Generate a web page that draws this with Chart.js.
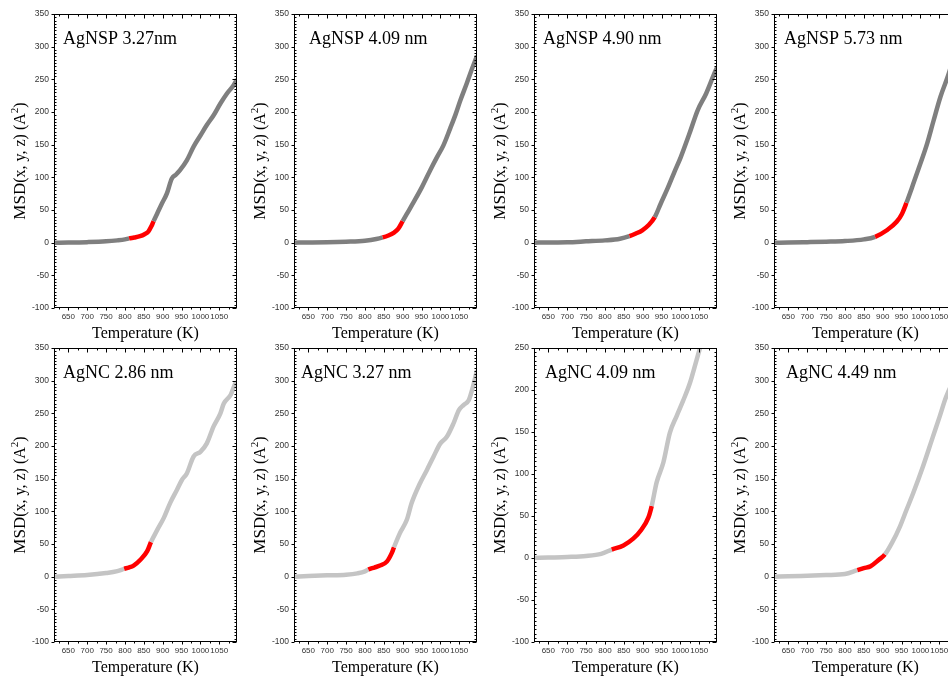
<!DOCTYPE html>
<html>
<head>
<meta charset="utf-8">
<script src="https://cdn.jsdelivr.net/npm/chart.js@4.4.0/dist/chart.umd.min.js"></script>
<style>
  body { margin: 0; background: #fff; }
  #fig { position: relative; width: 948px; height: 681px; overflow: hidden; }
  #fig canvas { position: absolute; }
</style>
</head>
<body>
<div id="fig"></div>
<script>
// tick values
const xTicks = [650, 700, 750, 800, 850, 900, 950, 1000, 1050];
const yTicks350 = [-100, -50, 0, 50, 100, 150, 200, 250, 300, 350];
const yTicks250 = [-100, -50, 0, 50, 100, 150, 200, 250];

const panelLabels = ['AgNSP 3.27nm', 'AgNSP 4.09 nm', 'AgNSP 4.90 nm', 'AgNSP 5.73 nm',
                     'AgNC 2.86 nm', 'AgNC 3.27 nm', 'AgNC 4.09 nm', 'AgNC 4.49 nm'];

// AgNSP 3.27nm
const tempNSP327 = [613, 650, 700, 750, 780, 800, 811, 825, 840, 852, 862, 870, 876, 885, 898, 911, 924, 935, 946, 964, 982, 1000, 1017, 1035, 1053, 1070, 1088, 1097];
const msdNSP327  = [0, 0.2, 0.8, 2, 3.5, 5, 6.5, 8, 10, 13, 17, 25, 33, 44, 60, 75, 98, 104, 111, 126, 147, 164, 180, 195, 213, 228, 241, 250];
const meltNSP327 = [811, 876];

// AgNSP 4.09 nm
const tempNSP409 = [613, 650, 700, 750, 800, 830, 847, 862, 876, 888, 900, 911, 929, 951, 973, 991, 1008, 1026, 1040, 1053, 1070, 1085, 1097];
const msdNSP409  = [0, 0.2, 0.6, 1.5, 3, 5.5, 8, 11, 15, 21, 33, 44, 62, 85, 111, 131, 149, 175, 196, 218, 244, 268, 286];
const meltNSP409 = [847, 900];

// AgNSP 4.90 nm
const tempNSP490 = [613, 650, 700, 750, 800, 840, 865, 882, 899, 916, 932, 948, 966, 984, 1001, 1024, 1046, 1068, 1090, 1097];
const msdNSP490  = [0, 0.2, 0.6, 2, 3.5, 6, 10, 14, 19, 27, 39, 60, 83, 108, 131, 167, 203, 228, 259, 268];
const meltNSP490 = [865, 932];

// AgNSP 5.73 nm
const tempNSP573 = [613, 650, 700, 750, 800, 850, 880, 911, 937, 951, 963, 978, 1000, 1018, 1035, 1053, 1073, 1097];
const msdNSP573  = [0, 0.2, 0.8, 1.5, 2.5, 5, 9, 19, 32, 44, 61, 85, 121, 152, 187, 223, 255, 300];
const meltNSP573 = [880, 963];

// AgNC 2.86 nm
const tempNC286 = [613, 650, 700, 750, 780, 798, 810, 823, 841, 859, 869, 886, 903, 920, 938, 951, 964, 982, 1000, 1017, 1035, 1053, 1062, 1080, 1093, 1097];
const msdNC286  = [0, 1, 2.5, 5.5, 8.5, 12, 14, 17, 26, 39, 53, 72, 90, 113, 133, 148, 158, 184, 191, 204, 230, 250, 265, 278, 296, 298];
const meltNC286 = [798, 869];

// AgNC 3.27 nm
const tempNC327 = [613, 650, 700, 750, 780, 800, 809, 825, 840, 858, 871, 877, 893, 911, 924, 946, 964, 982, 1000, 1017, 1035, 1049, 1062, 1075, 1084, 1097];
const msdNC327  = [0, 1, 2, 3, 5, 8, 11, 14, 17, 23, 36, 45, 67, 87, 113, 143, 163, 184, 204, 214, 235, 255, 263, 270, 286, 316];
const meltNC327 = [809, 877];

// AgNC 4.09 nm
const tempNC409 = [613, 650, 700, 750, 790, 818, 849, 875, 897, 915, 924, 937, 955, 972, 990, 1007, 1025, 1043, 1052, 1075, 1097];
const msdNC409  = [0, 0.5, 1.2, 2.4, 5, 10, 15, 23, 34, 48, 62, 90, 114, 149, 169, 187, 208, 236, 250, 282, 310];
const meltNC409 = [818, 924];

// AgNC 4.49 nm
const tempNC449 = [613, 650, 700, 750, 800, 833, 850, 868, 890, 906, 925, 946, 963, 981, 1007, 1033, 1051, 1068, 1089, 1097];
const msdNC449  = [0, 0.5, 1.5, 2.5, 4, 10, 13, 16, 26, 34, 52, 77, 102, 128, 169, 214, 245, 275, 301, 310];
const meltNC449 = [833, 906];

const panels = [
  { t: tempNSP327, m: msdNSP327, melt: meltNSP327, yMax: 350, yTicks: yTicks350, gray: '#7f7f7f', lx: 9 },
  { t: tempNSP409, m: msdNSP409, melt: meltNSP409, yMax: 350, yTicks: yTicks350, gray: '#7f7f7f', lx: 15 },
  { t: tempNSP490, m: msdNSP490, melt: meltNSP490, yMax: 350, yTicks: yTicks350, gray: '#7f7f7f', lx: 9 },
  { t: tempNSP573, m: msdNSP573, melt: meltNSP573, yMax: 350, yTicks: yTicks350, gray: '#7f7f7f', lx: 10 },
  { t: tempNC286, m: msdNC286, melt: meltNC286, yMax: 350, yTicks: yTicks350, gray: '#c4c4c4', lx: 9 },
  { t: tempNC327, m: msdNC327, melt: meltNC327, yMax: 350, yTicks: yTicks350, gray: '#c4c4c4', lx: 7 },
  { t: tempNC409, m: msdNC409, melt: meltNC409, yMax: 250, yTicks: yTicks250, gray: '#c4c4c4', lx: 11 },
  { t: tempNC449, m: msdNC449, melt: meltNC449, yMax: 350, yTicks: yTicks350, gray: '#c4c4c4', lx: 12 },
];

// frame, inward/outward ticks and the serif texts
const framePlugin = {
  id: 'frame',
  afterDraw(chart, args, opts) {
    const { ctx, chartArea: a, scales: { x, y } } = chart;
    const L = Math.round(a.left) + 0.5, R = Math.round(a.right) - 0.5;
    const T = Math.round(a.top) + 0.5, B = Math.round(a.bottom) - 0.5;
    ctx.save();
    ctx.strokeStyle = '#000';
    ctx.lineWidth = 1;
    ctx.strokeRect(L, T, R - L, B - T);
    ctx.beginPath();
    for (let v = Math.ceil(x.min / 25) * 25; v <= x.max; v += 25) {
      const px = Math.round(x.getPixelForValue(v)) + 0.5;
      const major = v % 50 === 0;
      ctx.moveTo(px, B); ctx.lineTo(px, B + (major ? 3 : 2));
      ctx.moveTo(px, T); ctx.lineTo(px, T + (major ? 4 : 2));
    }
    for (let v = y.min; v <= y.max; v += 5) {
      const py = Math.round(y.getPixelForValue(v)) + 0.5;
      const major = v % 50 === 0;
      if (major) { ctx.moveTo(L - 3, py); ctx.lineTo(L, py); }
      else { ctx.moveTo(L, py); ctx.lineTo(L + 2, py); }
      ctx.moveTo(R, py); ctx.lineTo(R - (major ? 4 : 2), py);
    }
    ctx.stroke();

    ctx.fillStyle = '#000';
    ctx.textBaseline = 'alphabetic';
    // panel label
    ctx.font = '18px "Liberation Serif"';
    ctx.textAlign = 'left';
    ctx.fillText(opts.label, a.left + opts.lx, a.top + 30);
    // x title
    ctx.font = '16px "Liberation Serif"';
    ctx.textAlign = 'center';
    ctx.fillText('Temperature (K)', (a.left + a.right) / 2, a.bottom + 30);
    // y title, rotated
    ctx.translate(0, (a.top + a.bottom) / 2);
    ctx.rotate(-Math.PI / 2);
    ctx.textAlign = 'left';
    const parts = [
      ['MSD', '17px "Liberation Serif"', 0],
      ['(x, y, z) (A', '16px "Liberation Serif"', 0],
      ['2', '11px "Liberation Serif"', -7],
      [')', '16px "Liberation Serif"', 0],
    ];
    let total = 0;
    parts.forEach(p => { ctx.font = p[1]; total += ctx.measureText(p[0]).width; });
    let cx = -total / 2;
    parts.forEach(p => {
      ctx.font = p[1];
      ctx.fillText(p[0], cx, 25 + p[2]);
      cx += ctx.measureText(p[0]).width;
    });
    ctx.restore();
  }
};

const fig = document.getElementById('fig');

panels.forEach((p, i) => {
  const canvas = document.createElement('canvas');
  canvas.width = 240;
  canvas.height = 346;
  canvas.style.left = (i % 4) * 240 + 'px';
  canvas.style.top = Math.floor(i / 4) * 334 + 'px';
  fig.appendChild(canvas);

  const points = p.t.map((t, k) => ({ x: t, y: p.m[k] }));
  const red = p.melt;

  new Chart(canvas, {
    type: 'line',
    data: {
      datasets: [{
        data: points,
        borderColor: p.gray,
        borderWidth: 4.5,
        pointRadius: 0,
        borderJoinStyle: 'round',
        cubicInterpolationMode: 'monotone',
        segment: {
          borderColor: c => (c.p0.parsed.x >= red[0] && c.p1.parsed.x <= red[1]) ? '#ff0000' : p.gray,
        },
      }]
    },
    options: {
      responsive: false,
      animation: false,
      events: [],
      layout: { padding: { top: 14, right: 3, left: 0, bottom: 0 } },
      plugins: {
        legend: { display: false },
        tooltip: { enabled: false },
        frame: { label: panelLabels[i], lx: p.lx },
      },
      scales: {
        x: {
          type: 'linear',
          min: 612,
          max: 1097,
          grid: { display: false, drawTicks: false },
          border: { display: false },
          afterBuildTicks: s => { s.ticks = xTicks.map(v => ({ value: v })); },
          afterFit: s => { s.height = 38; },
          ticks: {
            padding: 4,
            maxRotation: 0,
            autoSkip: false,
            color: '#333',
            font: { family: '"Liberation Sans"', size: 8 },
            callback: v => String(v),
          },
        },
        y: {
          type: 'linear',
          min: -100,
          max: p.yMax,
          grid: { display: false, drawTicks: false },
          border: { display: false },
          afterBuildTicks: s => { s.ticks = p.yTicks.map(v => ({ value: v })); },
          afterFit: s => { s.width = 54; },
          ticks: {
            padding: 5,
            autoSkip: false,
            color: '#333',
            font: { family: '"Liberation Sans"', size: 8.5 },
            callback: v => String(v),
          },
        },
      },
    },
    plugins: [framePlugin],
  });
});
</script>
</body>
</html>
